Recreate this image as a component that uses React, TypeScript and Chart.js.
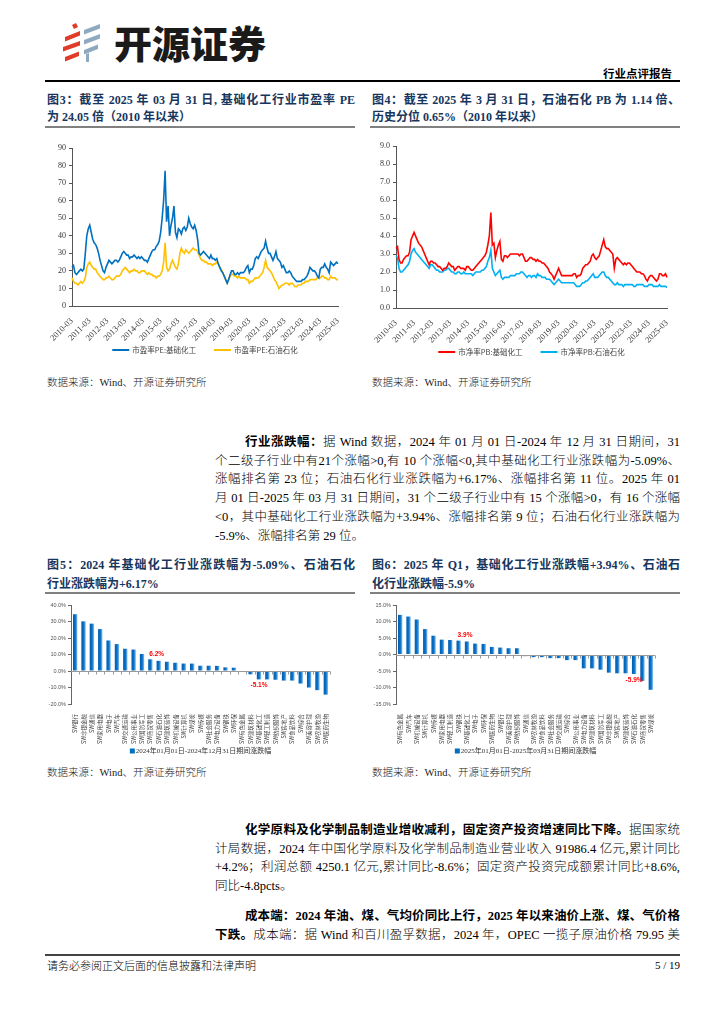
import React, { useEffect, useRef } from 'react';
import { Chart, registerables } from 'chart.js';
Chart.register(...registerables);

const SERIF = '"Liberation Serif", "Times New Roman", "Noto Sans CJK SC", serif';
const CJK = '"Noto Sans CJK SC", sans-serif';
const SANS = '"Liberation Sans", Arial, "Noto Sans CJK SC", sans-serif';

// ---------- Data: monthly series from 2010-03 to 2025-03 ----------
const seriesStart = '2010-03';
const lineTickLabels = ['2010-03','2011-03','2012-03','2013-03','2014-03','2015-03','2016-03','2017-03','2018-03','2019-03','2020-03','2021-03','2022-03','2023-03','2024-03','2025-03'];

const peChem = [
  22,23,19,18,19,20,21,20,21,30,
  40,44,46,42,38,36,35,33,30,26,23,20,
  19,22,24,26,25,24,25,26,26,25,26,28,
  30,31,30,29,29,27,28,28,29,28,27,28,
  27,28,27,26,26,25,27,29,31,32,32,34,
  35,37,42,50,60,77,48,57,40,46,50,57,
  42,39,44,43,41,44,45,43,45,50,47,45,
  44,46,43,38,30,29,30,31,30,29,28,27,
  29,27,27,26,27,24,22,20,19,17,15,13,
  15,18,20,20,18,18,19,18,19,19,19,20,
  22,23,19,21,21,23,27,28,27,29,31,32,
  33,37,33,30,30,28,26,28,31,27,26,25,
  22,23,21,19,19,20,19,17,16,15,14,14,
  14,14,15,15,16,17,19,22,21,20,20,19,
  17,16,21,22,22,24,22,21,19,25,24,23,
  24,25,24.05,
];
const pePetro = [
  16,14,13,13,12,13,14,13,14,16,
  22,24,25,23,22,21,21,19,18,17,16,15,
  15,16,16,17,16,15,15,16,17,17,17,18,
  20,21,22,21,20,19,20,20,21,20,20,19,
  19,20,20,20,19,18,19,18,18,17,17,16,
  17,17,18,20,25,36,22,20,21,24,26,24,
  22,21,24,30,33,31,30,32,31,30,31,32,
  33,32,32,31,29,27,26,26,25,25,24,24,
  24,23,24,24,25,24,22,21,19,17,15,13,
  15,17,18,18,17,17,16,17,16,16,16,16,
  15,15,13,14,14,15,16,16,16,17,18,19,
  22,26,22,21,20,19,17,15,14,12,10,11,
  12,12,13,13,13,12,13,13,12,11,11,12,
  12,12,13,13,14,14,14,15,15,15,15,15,
  16,16,16,17,17,16,16,15,15,17,16,16,
  16,15,15,
];
const pbChem = [
  3.3,3.4,2.7,2.5,2.5,2.7,2.8,2.9,2.9,3.1,
  3.8,4.0,4.2,4.0,3.8,3.6,3.5,3.4,3.2,3.0,2.8,2.6,
  2.4,2.6,2.6,2.5,2.5,2.4,2.3,2.3,2.2,2.1,2.2,2.2,
  2.3,2.5,2.4,2.3,2.3,2.1,2.2,2.3,2.3,2.2,2.2,2.2,
  2.1,2.3,2.3,2.2,2.1,2.1,2.2,2.3,2.4,2.5,2.6,2.7,
  2.8,2.9,3.1,3.5,4.0,5.3,3.5,3.6,2.8,3.2,3.5,3.7,
  2.7,2.6,2.9,2.9,2.8,2.9,3.0,3.0,3.0,3.0,3.0,3.0,
  2.9,3.0,3.0,2.8,2.6,2.6,2.7,2.8,2.8,2.7,2.7,2.6,
  2.7,2.6,2.6,2.5,2.5,2.4,2.3,2.2,2.0,1.9,1.8,1.6,
  1.8,2.0,2.2,2.0,1.8,1.8,1.8,1.8,1.8,1.8,1.8,1.8,
  1.9,1.9,1.7,1.8,1.8,1.9,2.2,2.3,2.4,2.4,2.5,2.6,
  2.9,3.0,2.8,2.7,2.8,2.9,3.2,3.5,3.8,3.4,3.3,3.3,
  3.2,3.1,3.0,2.2,2.7,2.8,2.7,2.6,2.5,2.4,2.5,2.4,
  2.5,2.5,2.4,2.3,2.2,2.1,2.0,2.0,2.0,1.9,1.9,1.8,
  1.6,1.5,1.7,1.8,1.8,1.7,1.6,1.5,1.6,1.9,1.9,1.8,
  1.8,1.9,1.7,
];
const pbPetro = [
  2.9,2.8,2.2,2.0,2.0,2.1,2.2,2.3,2.4,2.6,
  3.0,3.2,3.3,3.1,3.0,2.9,2.8,2.7,2.6,2.5,2.4,2.3,
  2.2,2.4,2.4,2.3,2.2,2.1,2.1,2.0,2.0,2.0,2.1,2.1,
  2.2,2.2,2.1,2.0,2.0,1.9,1.9,2.0,2.0,1.9,1.9,2.0,
  1.9,1.9,1.9,1.9,1.9,1.8,1.9,2.0,2.0,2.0,2.0,2.1,
  2.1,2.2,2.3,2.6,2.8,3.2,2.2,2.0,1.8,1.9,2.0,2.1,
  1.7,1.6,1.7,1.7,1.7,1.7,1.8,1.8,1.8,1.8,1.9,1.9,
  1.9,2.0,2.0,1.9,1.8,1.7,1.8,1.8,1.7,1.8,1.8,1.7,
  1.9,1.8,1.8,1.7,1.7,1.7,1.6,1.6,1.6,1.5,1.4,1.3,
  1.4,1.5,1.6,1.5,1.4,1.4,1.4,1.4,1.4,1.4,1.4,1.4,
  1.4,1.3,1.2,1.2,1.2,1.3,1.4,1.4,1.5,1.5,1.6,1.7,
  1.8,1.9,1.7,1.7,1.7,1.8,1.9,2.0,2.0,1.8,1.7,1.7,
  1.6,1.5,1.4,1.3,1.3,1.4,1.3,1.3,1.3,1.2,1.3,1.3,
  1.3,1.3,1.3,1.3,1.2,1.2,1.3,1.3,1.3,1.3,1.3,1.2,
  1.2,1.2,1.3,1.3,1.3,1.2,1.2,1.2,1.2,1.3,1.2,1.2,
  1.2,1.2,1.14,
];

// ---------- Data: industry returns ----------
const cat2024 = ['SW银行','SW非银金融','SW通信','SW家用电器','SW电子','SW汽车','SW交通运输','SW公用事业','SW国防军工','SW商贸零售','SW石油石化','SW建筑装饰','SW机械设备','SW计算机','SW煤炭','SW传媒','SW社会服务','SW电力设备','SW钢铁','SW环保','SW有色金属','SW建筑材料','SW基础化工','SW轻工制造','SW纺织服饰','SW房地产','SW食品饮料','SW综合','SW美容护理','SW农林牧渔','SW医药生物'];
const chg2024 = [34.4,30.1,28.7,25.4,18.5,16.3,13.5,13.0,10.3,7.1,6.17,5.6,5.0,4.5,4.5,3.2,3.2,3.1,2.2,2.0,0.3,-2.0,-5.09,-5.1,-5.3,-5.8,-5.8,-7.6,-10.0,-11.6,-14.3];
const cat2025 = ['SW有色金属','SW汽车','SW机械设备','SW计算机','SW传媒','SW家用电器','SW轻工制造','SW钢铁','SW基础化工','SW电子','SW环保','SW医药生物','SW银行','SW美容护理','SW纺织服饰','SW通信','SW农林牧渔','SW食品饮料','SW社会服务','SW交通运输','SW综合','SW公用事业','SW电力设备','SW建筑材料','SW国防军工','SW非银金融','SW房地产','SW建筑装饰','SW石油石化','SW商贸零售','SW煤炭'];
const chg2025 = [12.0,11.5,10.6,7.7,5.7,4.5,4.4,4.2,3.94,3.3,3.2,2.3,2.1,1.9,1.9,-0.5,-0.8,-0.8,-1.1,-1.1,-1.7,-1.7,-4.2,-4.2,-4.6,-5.5,-5.7,-5.7,-5.9,-8.0,-10.7];
const highlightNames = ['SW石油石化','SW基础化工'];
const legend2024 = '2024年01月01日-2024年12月31日期间涨跌幅';
const legend2025 = '2025年01月01日-2025年03月31日期间涨跌幅';

function buildMonths(start: string, n: number) {
  const [y0, m0] = start.split('-').map(Number);
  const out: string[] = [];
  for (let i = 0; i < n; i++) {
    const t = m0 - 1 + i;
    out.push(`${y0 + Math.floor(t / 12)}-${String((t % 12) + 1).padStart(2, '0')}`);
  }
  return out;
}
const months = buildMonths(seriesStart, peChem.length);

// ---------- Plugins ----------
const legendPlugin = {
  id: 'customLegend',
  afterDraw(chart: any, _a: any, opts: any) {
    const { ctx, chartArea } = chart;
    const items = chart.data.datasets.map((d: any) => ({ text: d.label, color: opts.swatchColor || d.borderColor }));
    ctx.save();
    ctx.font = `${opts.fontSize}px ${opts.family}`;
    const swW = opts.swatch === 'line' ? 17 : 5;
    const gapIn = opts.swatch === 'line' ? 3 : 1;
    const gapOut = 18;
    const widths = items.map((it: any) => swW + gapIn + ctx.measureText(it.text).width);
    const total = widths.reduce((a: number, b: number) => a + b, 0) + gapOut * (items.length - 1);
    let x = (chartArea.left + chartArea.right) / 2 - total / 2 + (opts.shift || 0);
    const y = opts.y;
    items.forEach((it: any, i: number) => {
      if (opts.swatch === 'line') {
        ctx.strokeStyle = it.color; ctx.lineWidth = 2;
        ctx.beginPath(); ctx.moveTo(x, y); ctx.lineTo(x + swW, y); ctx.stroke();
      } else {
        ctx.fillStyle = it.color; ctx.fillRect(x, y - 2.5, 5, 5);
      }
      ctx.fillStyle = opts.color; ctx.textBaseline = 'middle'; ctx.textAlign = 'left';
      ctx.fillText(it.text, x + swW + gapIn, y);
      x += widths[i] + gapOut;
    });
    ctx.restore();
  },
};

const zeroLinePlugin = {
  id: 'zeroLine',
  afterDatasetsDraw(chart: any, _a: any, opts: any) {
    const { ctx, chartArea, scales } = chart;
    const y0 = Math.round(scales.y.getPixelForValue(0)) + 0.5;
    const n = chart.data.labels.length;
    const w = (chartArea.right - chartArea.left) / n;
    ctx.save();
    ctx.strokeStyle = opts.color; ctx.lineWidth = 1;
    ctx.beginPath();
    ctx.moveTo(chartArea.left, y0); ctx.lineTo(chartArea.right, y0);
    for (let i = 1; i <= n; i++) {
      const px = Math.round(chartArea.left + i * w) + 0.5;
      ctx.moveTo(px, y0); ctx.lineTo(px, y0 + 3);
    }
    ctx.stroke();
    ctx.restore();
  },
};

const barLabelPlugin = {
  id: 'barLabels',
  afterDatasetsDraw(chart: any, _a: any, opts: any) {
    const { ctx } = chart;
    const meta = chart.getDatasetMeta(0);
    const data = chart.data.datasets[0].data;
    ctx.save();
    ctx.font = `bold ${opts.size}px ${opts.family}`;
    ctx.fillStyle = opts.color; ctx.textAlign = 'center';
    chart.data.labels.forEach((l: string, i: number) => {
      if (!opts.targets.includes(l)) return;
      const el = meta.data[i]; const v = data[i];
      const txt = v.toFixed(1) + '%';
      if (v >= 0) { ctx.textBaseline = 'bottom'; ctx.fillText(txt, el.x - 2, el.y - 3); }
      else { ctx.textBaseline = 'top'; ctx.fillText(txt, el.x, el.y + 3); }
    });
    ctx.restore();
  },
};

const barFill = (c: any) => {
  const chart = c.chart;
  const xs = chart.scales && chart.scales.x;
  if (!xs || c.dataIndex === undefined) return '#0070C0';
  const cx = xs.getPixelForValue(c.dataIndex);
  if (!Number.isFinite(cx)) return '#0070C0';
  const g = chart.ctx.createLinearGradient(cx - 2.2, 0, cx + 2.2, 0);
  g.addColorStop(0, '#005DB0'); g.addColorStop(0.55, '#0A72CA'); g.addColorStop(1, '#8CC4F0');
  return g;
};

// ---------- Config builders ----------
function lineConfig(a: { names: string[]; series: number[][]; colors: string[]; max: number; step: number; dec: number; left: number; top: number; bottom: number; right: number; w: number; h: number; legendY: number }) {
  return {
    type: 'line',
    data: {
      labels: months,
      datasets: a.series.map((s, i) => ({ label: a.names[i], data: s, borderColor: a.colors[i], borderWidth: 1.6, pointRadius: 0, tension: 0, fill: false })),
    },
    options: {
      animation: false, responsive: false, maintainAspectRatio: false,
      layout: { padding: { left: 0, top: a.top, right: a.w - a.right, bottom: 0 } },
      scales: {
        x: {
          grid: { display: false },
          border: { display: true, color: '#555', width: 1 },
          ticks: {
            autoSkip: false, minRotation: 45, maxRotation: 45, padding: 2, color: '#333',
            font: { family: SERIF, size: 8.5 },
            callback: (_v: any, i: number) => (lineTickLabels.includes(months[i]) ? months[i] : ''),
          },
          afterFit: (s: any) => { s.height = a.h - a.bottom; },
        },
        y: {
          min: 0, max: a.max,
          ticks: { stepSize: a.step, color: '#333', padding: 3, font: { family: SERIF, size: 8 }, callback: (v: number) => v.toFixed(a.dec) },
          grid: { drawOnChartArea: false, tickLength: 3, color: '#555' },
          border: { color: '#555', width: 1 },
          afterFit: (s: any) => { s.width = a.left; },
        },
      },
      plugins: {
        legend: { display: false }, tooltip: { enabled: false },
        customLegend: { y: a.legendY, swatch: 'line', fontSize: 7.5, family: CJK, color: '#444' },
      },
    },
    plugins: [legendPlugin],
  };
}

function barConfig(a: { cats: string[]; vals: number[]; legend: string; min: number; max: number; step: number; left: number; top: number; bottom: number; right: number; w: number; h: number; legendY: number }) {
  return {
    type: 'bar',
    data: {
      labels: a.cats,
      datasets: [{ label: a.legend, data: a.vals, backgroundColor: barFill, barPercentage: 0.52, categoryPercentage: 1 }],
    },
    options: {
      animation: false, responsive: false, maintainAspectRatio: false,
      layout: { padding: { left: 0, top: a.top, right: a.w - a.right, bottom: 16 } },
      scales: {
        x: {
          grid: { display: false }, border: { display: false },
          ticks: { autoSkip: false, minRotation: 90, maxRotation: 90, padding: 2, color: '#444', font: { family: CJK, size: 5.5 } },
          afterFit: (s: any) => { s.height = a.h - a.bottom - 16; },
        },
        y: {
          min: a.min, max: a.max,
          ticks: { stepSize: a.step, color: '#555', padding: 2, font: { family: SANS, size: 5.5 }, callback: (v: number) => v.toFixed(1) + '%' },
          grid: { drawOnChartArea: false, tickLength: 3, color: '#666' },
          border: { color: '#666', width: 1 },
          afterFit: (s: any) => { s.width = a.left; },
        },
      },
      plugins: {
        legend: { display: false }, tooltip: { enabled: false },
        zeroLine: { color: '#999' },
        barLabels: { targets: highlightNames, color: '#FF0000', size: 6.5, family: SANS },
        customLegend: { y: a.legendY, swatch: 'box', swatchColor: '#0070C0', fontSize: 7, family: SERIF, color: '#333' },
      },
    },
    plugins: [zeroLinePlugin, barLabelPlugin, legendPlugin],
  };
}

function ChartBox({ make, left, top, width, height }: { make: () => any; left: number; top: number; width: number; height: number }) {
  const ref = useRef<HTMLCanvasElement>(null);
  useEffect(() => {
    let chart: any = null;
    try {
      chart = new Chart(ref.current as HTMLCanvasElement, make());
    } catch (e) {
      console.error(e);
    }
    return () => { if (chart) chart.destroy(); };
  }, []);
  return <canvas ref={ref} width={width} height={height} style={{ position: 'absolute', left, top, width, height }} />;
}

// ---------- Text helpers ----------
function TLine({ x, y, w, size = 12.5, last = false, color = '#000', weight = 300, family = SERIF, children }: any) {
  return (
    <div style={{ position: 'absolute', left: x, top: y - size * 0.65, width: w, fontSize: size, lineHeight: `${Math.round(size * 1.3)}px`, textAlign: 'justify', textAlignLast: last ? 'left' : 'justify', color, fontWeight: weight, fontFamily: family }}>
      {children}
    </div>
  );
}

const B = ({ children }: any) => <b style={{ fontWeight: 700 }}>{children}</b>;
const TITLE = '#17365D';

function Logo() {
  return (
    <>
      <svg style={{ position: 'absolute', left: 61, top: 22 }} width="42" height="42" viewBox="0 0 42 42">
        <polygon points="11,3 15,1 17,5 13,7" fill="#E03C2A" />
        <polygon points="4,15 19,9 19,13.5 4,19.5" fill="#E03C2A" />
        <polygon points="2,25 19,19 19,23.5 2,29.5" fill="#E03C2A" />
        <polygon points="4,35 18,29.5 18,34 4,39.5" fill="#E03C2A" />
        <polygon points="23,8 39,2 39,6.5 23,12.5" fill="#8FAAC0" />
        <polygon points="23,18 39,12 39,16.5 23,22.5" fill="#8FAAC0" />
        <polygon points="23,28 37,22.5 37,27 23,32.5" fill="#8FAAC0" />
        <polygon points="25,32 28,31 28,40 25,40" fill="#8FAAC0" />
      </svg>
      <div style={{ position: 'absolute', left: 114, top: 22, fontSize: 38, lineHeight: '40px', fontWeight: 900, fontFamily: CJK, color: '#1a1a1a', letterSpacing: 0 }}>开源证券</div>
    </>
  );
}

export default function App() {
  return (
    <div style={{ position: 'absolute', left: 0, top: 0, width: 724, height: 1024, background: '#fff', overflow: 'hidden', fontFamily: SERIF }}>
      <Logo />
      <div style={{ position: 'absolute', left: 560, top: 65, width: 112, textAlign: 'right', fontSize: 11.5, fontWeight: 700, fontFamily: CJK, color: '#000' }}>行业点评报告</div>
      <div style={{ position: 'absolute', left: 45, top: 80, width: 635, height: 1.5, background: '#000' }} />

      {/* Figure 3 / 4 titles */}
      <TLine x={47} y={100} w={308} size={12} weight={700} color={TITLE}>图3：截至 2025 年 03 月 31 日, 基础化工行业市盈率 PE</TLine>
      <TLine x={47} y={117} w={308} size={12} weight={700} color={TITLE} last>为 24.05 倍（2010 年以来）</TLine>
      <div style={{ position: 'absolute', left: 45, top: 126, width: 310, height: 2, background: '#808080' }} />
      <TLine x={372} y={100} w={308} size={12} weight={700} color={TITLE}>图4：截至 2025 年 3 月 31 日，石油石化 PB 为 1.14 倍、</TLine>
      <TLine x={372} y={117} w={308} size={12} weight={700} color={TITLE} last>历史分位 0.65%（2010 年以来）</TLine>
      <div style={{ position: 'absolute', left: 370, top: 126, width: 310, height: 2, background: '#808080' }} />

      <ChartBox left={45} top={135} width={305} height={230}
        make={() => lineConfig({ names: ['市盈率PE:基础化工', '市盈率PE:石油石化'], series: [peChem, pePetro], colors: ['#0070C0', '#FFC000'], max: 90, step: 10, dec: 0, left: 27, top: 13, bottom: 171, right: 293, w: 305, h: 230, legendY: 215 })} />
      <ChartBox left={370} top={135} width={310} height={230}
        make={() => lineConfig({ names: ['市净率PB:基础化工', '市净率PB:石油石化'], series: [pbChem, pbPetro], colors: ['#FF0000', '#00B0F0'], max: 9, step: 1, dec: 1, left: 26, top: 11, bottom: 173, right: 297, w: 310, h: 230, legendY: 217 })} />

      <TLine x={47} y={383} w={300} size={10.5} last color="#222">数据来源：Wind、开源证券研究所</TLine>
      <TLine x={372} y={383} w={300} size={10.5} last color="#222">数据来源：Wind、开源证券研究所</TLine>

      {/* Paragraph 1 */}
      <TLine x={245} y={442} w={435} size={12.5}><B>行业涨跌幅：</B>据 Wind 数据，2024 年 01 月 01 日-2024 年 12 月 31 日期间，31</TLine>
      <TLine x={215} y={461} w={465} size={12.5}>个二级子行业中有21个涨幅&gt;0,有 10 个涨幅&lt;0,其中基础化工行业涨跌幅为-5.09%、</TLine>
      <TLine x={215} y={479.5} w={465} size={12.5}>涨幅排名第 23 位；石油石化行业涨跌幅为+6.17%、涨幅排名第 11 位。2025 年 01</TLine>
      <TLine x={215} y={498.5} w={465} size={12.5}>月 01 日-2025 年 03 月 31 日期间，31 个二级子行业中有 15 个涨幅&gt;0，有 16 个涨幅</TLine>
      <TLine x={215} y={517} w={465} size={12.5}>&lt;0，其中基础化工行业涨跌幅为+3.94%、涨幅排名第 9 位；石油石化行业涨跌幅为</TLine>
      <TLine x={215} y={536} w={465} size={12.5} last>-5.9%、涨幅排名第 29 位。</TLine>

      {/* Figure 5 / 6 titles */}
      <TLine x={47} y={565} w={308} size={12} weight={700} color={TITLE}>图5：2024 年基础化工行业涨跌幅为-5.09%、石油石化</TLine>
      <TLine x={47} y={584} w={308} size={12} weight={700} color={TITLE} last>行业涨跌幅为+6.17%</TLine>
      <div style={{ position: 'absolute', left: 45, top: 592, width: 310, height: 2, background: '#808080' }} />
      <TLine x={372} y={565} w={308} size={12} weight={700} color={TITLE}>图6：2025 年 Q1，基础化工行业涨跌幅+3.94%、石油石</TLine>
      <TLine x={372} y={584} w={308} size={12} weight={700} color={TITLE} last>化行业涨跌幅-5.9%</TLine>
      <div style={{ position: 'absolute', left: 370, top: 592, width: 310, height: 2, background: '#808080' }} />

      <ChartBox left={45} top={597} width={310} height={165}
        make={() => barConfig({ cats: cat2024, vals: chg2024, legend: legend2024, min: -20, max: 40, step: 10, left: 26, top: 8, bottom: 107, right: 285, w: 310, h: 165, legendY: 154 })} />
      <ChartBox left={370} top={597} width={310} height={165}
        make={() => barConfig({ cats: cat2025, vals: chg2025, legend: legend2025, min: -15, max: 15, step: 5, left: 26, top: 8, bottom: 107, right: 285, w: 310, h: 165, legendY: 154 })} />

      <TLine x={47} y={773} w={300} size={10.5} last color="#222">数据来源：Wind、开源证券研究所</TLine>
      <TLine x={372} y={773} w={300} size={10.5} last color="#222">数据来源：Wind、开源证券研究所</TLine>

      {/* Paragraph 2 */}
      <TLine x={245} y={830} w={435} size={12.5}><B>化学原料及化学制品制造业增收减利，固定资产投资增速同比下降。</B>据国家统</TLine>
      <TLine x={215} y={849} w={465} size={12.5}>计局数据，2024 年中国化学原料及化学制品制造业营业收入 91986.4 亿元,累计同比</TLine>
      <TLine x={215} y={867.5} w={465} size={12.5}>+4.2%；利润总额 4250.1 亿元,累计同比-8.6%；固定资产投资完成额累计同比+8.6%,</TLine>
      <TLine x={215} y={886} w={465} size={12.5} last>同比-4.8pcts。</TLine>

      {/* Paragraph 3 */}
      <TLine x={245} y={916} w={435} size={12.5}><B>成本端：2024 年油、煤、气均价同比上行，2025 年以来油价上涨、煤、气价格</B></TLine>
      <TLine x={215} y={935} w={465} size={12.5}><B>下跌。</B>成本端：据 Wind 和百川盈孚数据，2024 年，OPEC 一揽子原油价格 79.95 美</TLine>

      {/* Footer */}
      <div style={{ position: 'absolute', left: 45, top: 954, width: 635, height: 1.5, background: '#444' }} />
      <TLine x={47} y={966} w={300} size={11} last>请务必参阅正文后面的信息披露和法律声明</TLine>
      <div style={{ position: 'absolute', left: 580, top: 959, width: 100, textAlign: 'right', fontSize: 11, fontFamily: SERIF }}>5 / 19</div>
    </div>
  );
}
